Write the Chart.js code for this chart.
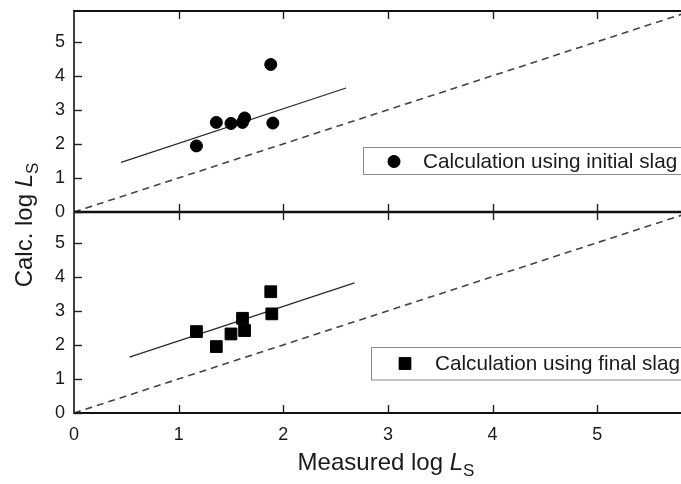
<!DOCTYPE html>
<html><head><meta charset="utf-8">
<script src="https://cdn.jsdelivr.net/npm/chart.js@4/dist/chart.umd.min.js"></script>
<style>html,body{margin:0;padding:0;background:#fff}#wrap{width:681px;height:484px;position:relative}</style>
</head><body><div id="wrap"><canvas id="c" width="681" height="484"></canvas></div>
<script>
// ---- data ----
const xTicks = [0, 1, 2, 3, 4, 5];
const yTicks = [0, 1, 2, 3, 4, 5];
const measuredInitial = [1.17, 1.36, 1.50, 1.61, 1.63, 1.88, 1.90];
const calcInitial     = [1.94, 2.63, 2.60, 2.63, 2.76, 4.33, 2.61];
const measuredFinal   = [1.17, 1.36, 1.50, 1.61, 1.63, 1.88, 1.89];
const calcFinal       = [2.39, 1.95, 2.32, 2.78, 2.42, 3.56, 2.91];
const fitInitialX = [0.45, 2.60];
const fitInitialY = [1.46, 3.64];
const fitFinalX   = [0.53, 2.68];
const fitFinalY   = [1.64, 3.82];
const parityX = [0, 5.9];
const parityY = [0, 5.9];
const legendLabels = ["Calculation using initial slag", "Calculation using final slag"];
const xTitleParts = ["Measured log ", "L", "S"];
const yTitleParts = ["Calc. log ", "L", "S"];

const FONT = "'Liberation Sans', Arial, Helvetica, sans-serif";
const TXT = '#1a1a1a';
const pts = (xs, ys) => xs.map((x, i) => ({x, y: ys[i]}));

// the plot runs to the right edge of the canvas: no extra room for point overflow
const SC = Chart.ScatterController || Chart.registry.getController('scatter');
if (SC && SC.prototype) SC.prototype.getMaxOverflow = function () { return 0; };

const lineDs = (xs, ys, yAxisID, dash, color, w) => ({
  type: 'scatter', data: pts(xs, ys), yAxisID, showLine: true, pointRadius: 0,
  borderColor: color, borderWidth: w, borderDash: dash, order: 2, fill: false
});

const frame = {
  id: 'frame',
  afterDraw(chart) {
    const ctx = chart.ctx, a = chart.chartArea;
    const x = chart.scales.x, yt = chart.scales.yTop, yb = chart.scales.yBottom;
    const L = (x1, y1, x2, y2, w) => { ctx.lineWidth = w; ctx.beginPath(); ctx.moveTo(x1, y1); ctx.lineTo(x2, y2); ctx.stroke(); };
    ctx.save();
    ctx.strokeStyle = '#111';
    const R = a.right + 5;
    L(a.left, yt.top, R, yt.top, 1.8);
    L(a.left, yb.top, R, yb.top, 2.4);
    L(a.left, yb.bottom, R, yb.bottom, 2);
    L(a.left, yt.top - 0.9, a.left, yb.bottom + 1, 1.6);
    ctx.strokeStyle = '#222';
    xTicks.forEach(v => {
      if (v === 0) return;
      const px = Math.round(x.getPixelForValue(v)) + 0.5;
      L(px, yt.top, px, yt.top + 8, 1.4);
      L(px, yb.top - 8, px, yb.top + 8, 1.4);
      L(px, yb.bottom - 8, px, yb.bottom, 1.4);
    });
    [yt, yb].forEach(s => yTicks.forEach(v => {
      const py = Math.round(s.getPixelForValue(v)) + 0.5;
      L(a.left, py, a.left + 8, py, 1.4);
    }));

    // legends
    const legends = [
      {box: [363, 147, 330, 27], mx: 394, my: 161.5, tx: 423, ty: 168, ds: chart.data.datasets[0], text: legendLabels[0]},
      {box: [371, 347, 330, 32.5], mx: 405, my: 363.5, tx: 435, ty: 370, ds: chart.data.datasets[1], text: legendLabels[1]}
    ];
    legends.forEach(l => {
      ctx.fillStyle = '#fff';
      ctx.fillRect(...l.box);
      ctx.strokeStyle = '#8a8a8a'; ctx.lineWidth = 1;
      ctx.strokeRect(l.box[0] + 0.5, l.box[1] + 0.5, l.box[2], l.box[3]);
      ctx.fillStyle = '#000'; ctx.strokeStyle = '#000'; ctx.lineWidth = 1;
      Chart.helpers.drawPoint(ctx, {pointStyle: l.ds.pointStyle, radius: l.ds.pointRadius, borderWidth: 1}, l.mx, l.my);
      ctx.fill();
      ctx.fillStyle = TXT; ctx.font = '20.7px ' + FONT; ctx.textAlign = 'left'; ctx.textBaseline = 'alphabetic';
      ctx.fillText(l.text, l.tx, l.ty);
    });

    // titles
    const drawTitle = (parts) => {
      const f1 = '24px ' + FONT, f2 = 'italic 24px ' + FONT, f3 = '17px ' + FONT;
      ctx.font = f1; const w1 = ctx.measureText(parts[0]).width;
      ctx.font = f2; const w2 = ctx.measureText(parts[1]).width;
      ctx.font = f3; const w3 = ctx.measureText(parts[2]).width;
      const total = w1 + w2 + w3;
      let cx = -total / 2;
      ctx.fillStyle = TXT; ctx.textAlign = 'left'; ctx.textBaseline = 'alphabetic';
      ctx.font = f1; ctx.fillText(parts[0], cx, 0); cx += w1;
      ctx.font = f2; ctx.fillText(parts[1], cx, 0); cx += w2;
      ctx.font = f3; ctx.fillText(parts[2], cx, 6);
    };
    ctx.save(); ctx.translate(386, 470); drawTitle(xTitleParts); ctx.restore();
    ctx.save(); ctx.translate(32, 225); ctx.rotate(-Math.PI / 2); drawTitle(yTitleParts); ctx.restore();
    ctx.restore();
  }
};

const yScale = () => ({
  type: 'linear', position: 'left', stack: 'panels', stackWeight: 1,
  min: 0, max: 5.9,
  afterBuildTicks: s => { s.ticks = yTicks.map(v => ({value: v})); },
  afterFit: s => { s.width = 74; s.paddingTop = 0; s.paddingBottom = 0; },
  grid: {display: false, drawTicks: false},
  border: {display: false},
  ticks: {font: {size: 18, family: FONT}, color: TXT, padding: 9, autoSkip: false}
});

new Chart(document.getElementById('c'), {
  type: 'scatter',
  data: {
    datasets: [
      {label: legendLabels[0], data: pts(measuredInitial, calcInitial), yAxisID: 'yTop',
       pointStyle: 'circle', pointRadius: 6, backgroundColor: '#000', borderColor: '#000', borderWidth: 1, order: 0},
      {label: legendLabels[1], data: pts(measuredFinal, calcFinal), yAxisID: 'yBottom',
       pointStyle: 'rect', pointRadius: 8.3, backgroundColor: '#000', borderColor: '#000', borderWidth: 1, order: 0},
      lineDs(fitInitialX, fitInitialY, 'yTop', [], '#2a2a2a', 1.3),
      lineDs(fitFinalX, fitFinalY, 'yBottom', [], '#2a2a2a', 1.3),
      lineDs(parityX, parityY, 'yTop', [7, 5], '#444', 1.6),
      lineDs(parityX, parityY, 'yBottom', [7, 5], '#444', 1.6)
    ]
  },
  options: {
    responsive: false, animation: false, devicePixelRatio: 1,
    layout: {padding: {top: 11, left: 0, right: 0, bottom: 0}},
    plugins: {legend: {display: false}, tooltip: {enabled: false}, title: {display: false}},
    scales: {
      x: {
        type: 'linear', position: 'bottom', min: 0, max: 5.8,
        afterBuildTicks: s => { s.ticks = xTicks.map(v => ({value: v})); },
        afterFit: s => { s.height = 71; s.paddingLeft = 0; s.paddingRight = 0; },
        grid: {display: false, drawTicks: false},
        border: {display: false},
        ticks: {font: {size: 18, family: FONT}, color: TXT, padding: 11, autoSkip: false, maxRotation: 0}
      },
      yBottom: yScale(),
      yTop: yScale()
    }
  },
  plugins: [frame]
});
</script>
</body></html>
